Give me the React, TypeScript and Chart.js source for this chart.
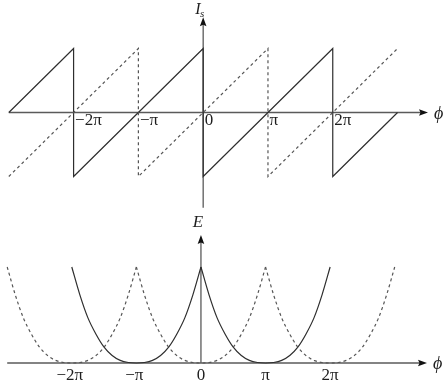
import React, { useEffect, useRef } from "react";
import { Chart, registerables } from "chart.js";

Chart.register(...registerables);

// ---------- data (φ in units of π) ----------
// Top panel: I_s(φ) sawtooth
const SAW_SOLID_PHI = [-3, -2, -2, 0, 0, 2, 2, 3];
const SAW_SOLID_I = [0, 1, -1, 1, -1, 1, -1, 0];
const SAW_DASHED_PHI = [-3, -1, -1, 1, 1, 3];
const SAW_DASHED_I = [-1, 1, -1, 1, -1, 1];

// Bottom panel: E(φ) arcs, one arc around each minimum
const ARC_OFFSET = [-1, -0.875, -0.75, -0.625, -0.5, -0.375, -0.25, -0.125, 0, 0.125, 0.25, 0.375, 0.5, 0.625, 0.75, 0.875, 1];
const ARC_E = [1, 0.71, 0.47, 0.3, 0.165, 0.078, 0.027, 0.005, 0, 0.005, 0.027, 0.078, 0.165, 0.3, 0.47, 0.71, 1];
const SOLID_MINIMA = [-1, 1];
const DASHED_MINIMA = [-2, 0, 2];

// Axis ticks
const X_TICKS = [-2, -1, 0, 1, 2];
const X_TICK_LABELS = ["\u22122\u03c0", "\u2212\u03c0", "0", "\u03c0", "2\u03c0"];

const SOLID_COLOR = "#2e2e2e";
const DASHED_COLOR = "#555555";
const AXIS_COLOR = "#5a5a5a";
const TEXT_COLOR = "#1e1e1e";
const FONT = "Liberation Serif";

type AxesOpts = {
  tickMode: "top" | "bottom";
  yLabel: string;
  ySub?: string;
};

const arrowAxes = {
  id: "arrowAxes",
  beforeDatasetsDraw(chart: any, _args: any, opts: AxesOpts) {
    const { ctx } = chart;
    const xs = chart.scales.x;
    const ys = chart.scales.y;
    const y0 = ys.getPixelForValue(0);
    const x0 = xs.getPixelForValue(0);
    ctx.save();
    ctx.strokeStyle = AXIS_COLOR;
    ctx.fillStyle = "#111";
    ctx.lineWidth = 1.3;
    // horizontal axis
    ctx.beginPath();
    ctx.moveTo(xs.left, y0);
    ctx.lineTo(xs.right - 6, y0);
    ctx.stroke();
    ctx.beginPath();
    ctx.moveTo(xs.right, y0);
    ctx.lineTo(xs.right - 9, y0 - 3.3);
    ctx.lineTo(xs.right - 7.5, y0);
    ctx.lineTo(xs.right - 9, y0 + 3.3);
    ctx.closePath();
    ctx.fill();
    // vertical axis
    ctx.beginPath();
    ctx.moveTo(x0, ys.bottom);
    ctx.lineTo(x0, ys.top + 6);
    ctx.stroke();
    ctx.beginPath();
    ctx.moveTo(x0, ys.top);
    ctx.lineTo(x0 - 3.3, ys.top + 9);
    ctx.lineTo(x0, ys.top + 7.5);
    ctx.lineTo(x0 + 3.3, ys.top + 9);
    ctx.closePath();
    ctx.fill();
    ctx.restore();
  },
  afterDraw(chart: any, _args: any, opts: AxesOpts) {
    const { ctx } = chart;
    const xs = chart.scales.x;
    const ys = chart.scales.y;
    const y0 = ys.getPixelForValue(0);
    const x0 = xs.getPixelForValue(0);
    ctx.save();
    ctx.fillStyle = TEXT_COLOR;
    ctx.font = `17px "${FONT}"`;
    ctx.textBaseline = "alphabetic";
    X_TICKS.forEach((v, i) => {
      const px = xs.getPixelForValue(v);
      if (opts.tickMode === "top") {
        ctx.textAlign = "left";
        ctx.fillText(X_TICK_LABELS[i], px + 1.5, y0 + 12.5);
      } else {
        ctx.textAlign = "center";
        const shift = X_TICK_LABELS[i].startsWith("\u2212") ? -2 : 0;
        ctx.fillText(X_TICK_LABELS[i], px + shift, y0 + 17);
      }
    });
    // ϕ label
    ctx.font = `italic 18px "${FONT}"`;
    ctx.textAlign = "left";
    ctx.fillText("\u03d5", xs.right + 6, y0 + 6);
    // y label
    if (opts.ySub) {
      ctx.font = `italic 16px "${FONT}"`;
      ctx.fillText(opts.yLabel, x0 - 8, ys.top - 3);
      const w = ctx.measureText(opts.yLabel).width;
      ctx.font = `italic 11px "${FONT}"`;
      ctx.fillText(opts.ySub, x0 - 8 + w - 0.5, ys.top);
    } else {
      ctx.font = `italic 17px "${FONT}"`;
      ctx.textAlign = "center";
      ctx.fillText(opts.yLabel, x0 - 3, ys.top - 8);
    }
    ctx.restore();
  },
};

function lineDataset(points: { x: number; y: number }[], dashed: boolean, smooth: boolean) {
  return {
    data: points,
    borderColor: dashed ? DASHED_COLOR : SOLID_COLOR,
    borderWidth: 1.2,
    borderDash: dashed ? [3, 3] : [],
    pointRadius: 0,
    fill: false,
    tension: 0,
    cubicInterpolationMode: smooth ? ("monotone" as const) : ("default" as const),
    clip: false as any,
  };
}

function baseOptions(pad: any, xmin: number, xmax: number, ymin: number, ymax: number, axes: AxesOpts) {
  return {
    responsive: false,
    animation: false as const,
    layout: { padding: pad },
    plugins: {
      legend: { display: false },
      tooltip: { enabled: false },
      arrowAxes: axes,
    },
    scales: {
      x: { type: "linear" as const, min: xmin, max: xmax, display: false },
      y: { type: "linear" as const, min: ymin, max: ymax, display: false },
    },
  };
}

export default function App() {
  const topRef = useRef<HTMLCanvasElement>(null);
  const botRef = useRef<HTMLCanvasElement>(null);

  useEffect(() => {
    const topChart = new Chart(topRef.current!, {
      type: "line",
      data: {
        datasets: [
          lineDataset(SAW_DASHED_PHI.map((x, i) => ({ x, y: SAW_DASHED_I[i] })), true, false),
          lineDataset(SAW_SOLID_PHI.map((x, i) => ({ x, y: SAW_SOLID_I[i] })), false, false),
        ] as any,
      },
      options: baseOptions(
        { left: 8.8, right: 18, top: 17.14, bottom: 4.14 },
        -3,
        3.47,
        -1.49,
        1.49,
        { tickMode: "top", yLabel: "I", ySub: "s" }
      ) as any,
      plugins: [arrowAxes],
    });

    const arcs: any[] = [];
    DASHED_MINIMA.forEach((m) => {
      arcs.push(lineDataset(ARC_OFFSET.map((o, i) => ({ x: m + o, y: ARC_E[i] })), true, true));
    });
    SOLID_MINIMA.forEach((m) => {
      arcs.push(lineDataset(ARC_OFFSET.map((o, i) => ({ x: m + o, y: ARC_E[i] })), false, true));
    });

    const botChart = new Chart(botRef.current!, {
      type: "line",
      data: { datasets: arcs },
      options: baseOptions(
        { left: 7.2, right: 19, top: 23, bottom: 22 },
        -3,
        3.5,
        0,
        1.333,
        { tickMode: "bottom", yLabel: "E" }
      ) as any,
      plugins: [arrowAxes],
    });

    return () => {
      topChart.destroy();
      botChart.destroy();
    };
  }, []);

  return (
    <div style={{ position: "fixed", left: 0, top: 0, width: 446, height: 385, background: "#fff" }}>
      <canvas ref={topRef} width={446} height={212} style={{ position: "absolute", left: 0, top: 0 }} />
      <canvas ref={botRef} width={446} height={173} style={{ position: "absolute", left: 0, top: 212 }} />
    </div>
  );
}
